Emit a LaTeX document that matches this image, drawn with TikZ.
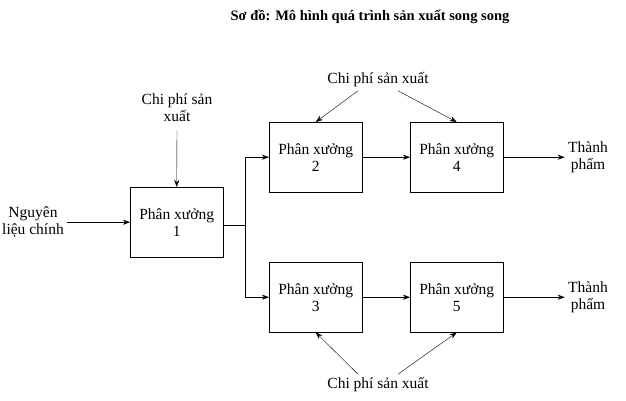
\documentclass[tikz,border=0pt]{standalone}
\usepackage{fontspec}
\setmainfont{Liberation Serif}
\usetikzlibrary{arrows.meta}
\usetikzlibrary{positioning}

\begin{document}
\begin{tikzpicture}[x=1pt,y=-1pt,font=\fontsize{15.5}{17}\selectfont]
\tikzset{xuong/.style={draw,minimum width=93pt,minimum height=70pt,align=center,anchor=north west,inner sep=2pt},
         mui/.style={-{Stealth[length=7pt,width=5pt]}}}
\useasboundingbox (0,0) rectangle (626,400);
\node[font=\fontsize{14.5}{16}\selectfont\bfseries] (title) at (370,17) {Sơ đồ: Mô hình quá trình sản xuất song song};
% cac phan xuong
\node[xuong] (p1) at (130,187) {Phân xưởng\\1};
\node[xuong] (p2) at (269,122) {Phân xưởng\\2};
\node[xuong] (p4) at (410,122) {Phân xưởng\\4};
\node[xuong] (p3) at (269,262) {Phân xưởng\\3};
\node[xuong] (p5) at (410,262) {Phân xưởng\\5};
% nhan
\node[align=center] (nl) at (33,222) {Nguyên\\liệu chính};
\node[align=center] (cp1) at (177,108) {Chi phí sản\\xuất};
\node (cp2) at (378,80) {Chi phí sản xuất};
\node (cp3) at (378,385) {Chi phí sản xuất};
\node[align=center] (tp1) at (588,157) {Thành\\phẩm};
\node[align=center] (tp2) at (588,297) {Thành\\phẩm};
\coordinate (nga) at (245,225);
% mui ten
\draw[mui] (nl.east |- p1.west) -- (p1.west);
\draw[mui] (cp1.south) ++(0,5) -- (p1.north);
\draw (p1.east |- nga) -- (nga);
\draw[mui] (nga) |- (p2.west);
\draw[mui] (nga) |- (p3.west);
\draw[mui] (p2) -- (p4);
\draw[mui] (p3) -- (p5);
\draw[mui] (p4.east) -- (p4.east -| tp1.west);
\draw[mui] (p5.east) -- (p5.east -| tp2.west);
\draw[mui] (cp2.south) ++(-20,0) -- (p2.north);
\draw[mui] (cp2.south) ++(20,0) -- (p4.north);
\draw[mui] (cp3.north) ++(-20,0) -- (p3.south);
\draw[mui] (cp3.north) ++(20,0) -- (p5.south);
\end{tikzpicture}
\end{document}
